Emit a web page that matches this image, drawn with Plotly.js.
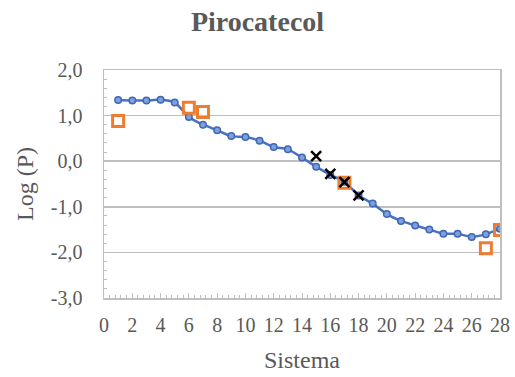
<!DOCTYPE html>
<html>
<head>
<meta charset="utf-8">
<script src="https://cdn.plot.ly/plotly-3.0.1.min.js"></script>
<style>html,body{margin:0;padding:0;background:#fff;}#chart{width:515px;height:377px;}</style>
</head>
<body>
<div id="chart"></div>
<script>
// Blue series (Sistema 1..28)
const sistema = [1,2,3,4,5,6,7,8,9,10,11,12,13,14,15,16,17,18,19,20,21,22,23,24,25,26,27,28];
const logP = [1.34,1.33,1.33,1.35,1.29,0.97,0.80,0.68,0.55,0.53,0.45,0.31,0.26,0.08,-0.12,-0.30,-0.45,-0.75,-0.93,-1.16,-1.31,-1.41,-1.50,-1.59,-1.59,-1.66,-1.60,-1.48];
// Orange squares
const orangeX = [1,6,7,17,27,28];
const orangeY = [0.88,1.17,1.08,-0.47,-1.91,-1.51];
// Black crosses
const blackX = [15,16,17,18];
const blackY = [0.11,-0.28,-0.46,-0.75];
// Y tick labels (comma decimals, hyphen minus as in the original)
const yTickVals = [-3,-2,-1,0,1,2];
const yTickText = ['-3,0','-2,0','-1,0','0,0','1,0','2,0'];

const font = "Liberation Serif, Times New Roman, serif";
const grey = "#595959";
const lineGrey = "#BFBFBF";

const traces = [
  {x: sistema, y: logP, type: 'scatter', mode: 'lines+markers',
   line: {color: '#4472C4', width: 2.5, shape: 'spline', smoothing: 0.6},
   marker: {symbol: 'circle', size: 6.5, color: '#7F9FD8', line: {color: '#3F67B5', width: 1.5}}},
  {x: orangeX, y: orangeY, type: 'scatter', mode: 'markers',
   marker: {symbol: 'square-open', size: 11, color: '#ED7D31', line: {color: '#ED7D31', width: 3}}},
  {x: blackX, y: blackY, type: 'scatter', mode: 'markers',
   marker: {symbol: 'x-thin-open', size: 10, color: '#000000', line: {color: '#000000', width: 2.5}}}
];

const layout = {
  width: 515, height: 377,
  margin: {l: 104, r: 15, t: 70, b: 79},
  paper_bgcolor: '#fff', plot_bgcolor: '#fff',
  showlegend: false,
  separators: ',.',
  font: {family: font, color: grey, size: 20},
  title: {text: '<b>Pirocatecol</b>', font: {family: font, size: 28, color: grey}, x: 0.5, xanchor: 'center', y: 0.945, yanchor: 'middle'},
  xaxis: {
    range: [0, 28], dtick: 2, tick0: 0,
    showgrid: false, zeroline: false,
    showline: true, linecolor: lineGrey, linewidth: 1.5, mirror: true,
    ticks: 'inside', ticklen: 5, tickcolor: lineGrey, tickwidth: 1,
    minor: {dtick: 0.4, ticks: 'inside', ticklen: 3, tickcolor: lineGrey, showgrid: false},
    tickfont: {family: font, size: 20, color: grey},
    ticklabelstandoff: 8,
    title: {text: 'Sistema', font: {family: font, size: 24, color: grey}, standoff: 16}
  },
  yaxis: {
    range: [-3, 2], tickvals: yTickVals, ticktext: yTickText,
    showgrid: true, gridcolor: lineGrey, gridwidth: 1.5, zeroline: false,
    showline: true, linecolor: lineGrey, linewidth: 1.5, mirror: true,
    ticks: 'inside', ticklen: 5, tickcolor: lineGrey, tickwidth: 1,
    minor: {dtick: 0.2, tick0: 0, ticks: 'inside', ticklen: 3, tickcolor: lineGrey, showgrid: false},
    tickfont: {family: font, size: 20, color: grey},
    ticklabelstandoff: 16,
    title: {text: 'Log (P)', font: {family: font, size: 24, color: grey}, standoff: 10}
  }
};

Plotly.newPlot('chart', traces, layout, {displayModeBar: false, staticPlot: true});
</script>
</body>
</html>
